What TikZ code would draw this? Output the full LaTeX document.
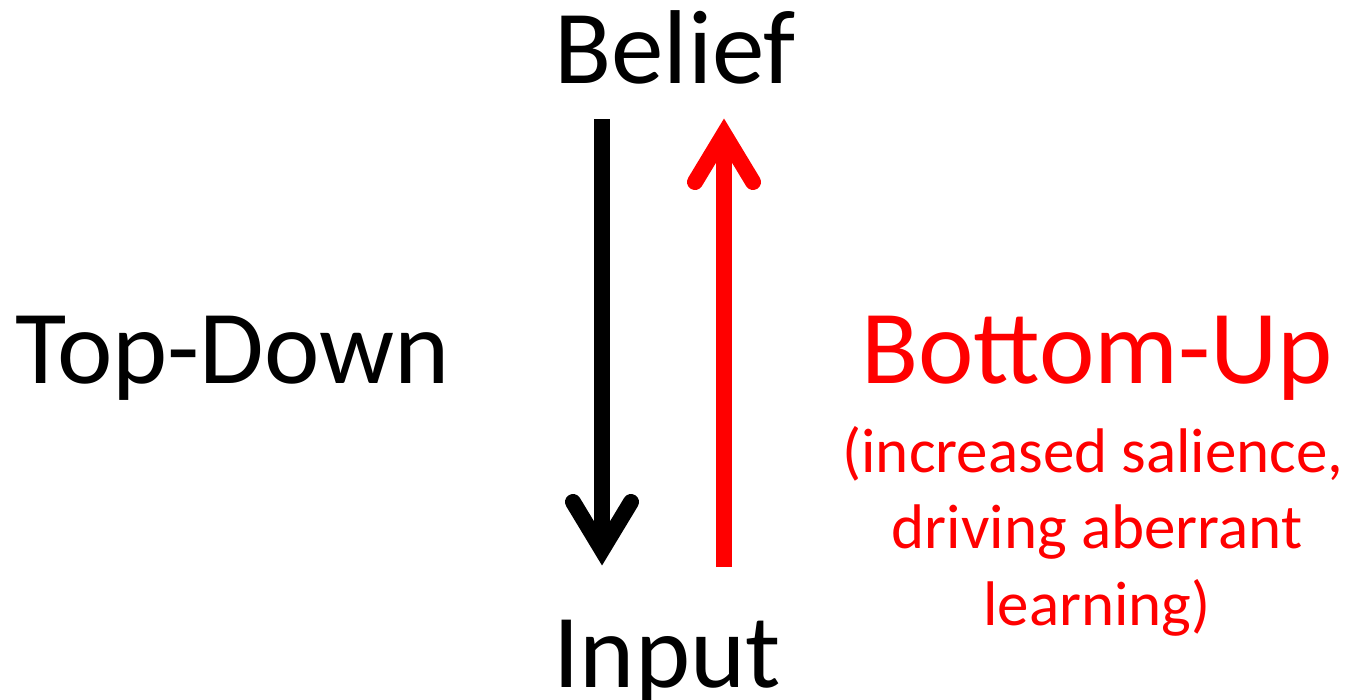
\documentclass[tikz,border=0pt]{standalone}
\usepackage{fontspec}
\usetikzlibrary{calc}
\setmainfont{Carlito}
\definecolor{bured}{RGB}{255,0,0}
\begin{document}
\begin{tikzpicture}[x=1pt,y=-1pt,
  big/.style={inner sep=0pt,anchor=base,font=\fontsize{105}{120}\selectfont},
  small/.style={inner sep=0pt,anchor=base,font=\fontsize{63}{76}\selectfont,text=bured},
  shaft/.style={line width=16pt,line cap=butt},
  head/.style={line width=16pt,line cap=round,line join=miter,miter limit=10}]
\useasboundingbox (0,0) rectangle (1356,699);
\node[big] (belief) at (675,83) {Belief};
\node[big] (input) at (667,687) {Input};
\node[big,anchor=base west] (td) at (15,383) {Top-Down};
\node[big,text=bured] (bu) at (1097,383) {Bottom-Up};
\node[small] (bu1) at (1093,472) {(increased salience,};
\node[small] (bu2) at (1097,548) {driving aberrant};
\node[small] (bu3) at (1097,625) {learning)};
% top-down arrow
\coordinate (tdstart) at (602,119);
\coordinate (tdtip) at (602,550);
\draw[shaft] (tdstart) -- (tdtip);
\draw[head] ($(tdtip)+(-29,-48)$) -- (tdtip) -- ($(tdtip)+(29,-48)$);
% bottom-up arrow
\coordinate (bustart) at (724,567);
\coordinate (butip) at (724,134);
\draw[shaft,bured] (bustart) -- (butip);
\draw[head,bured] ($(butip)+(-29,48)$) -- (butip) -- ($(butip)+(29,48)$);
\end{tikzpicture}
\end{document}
